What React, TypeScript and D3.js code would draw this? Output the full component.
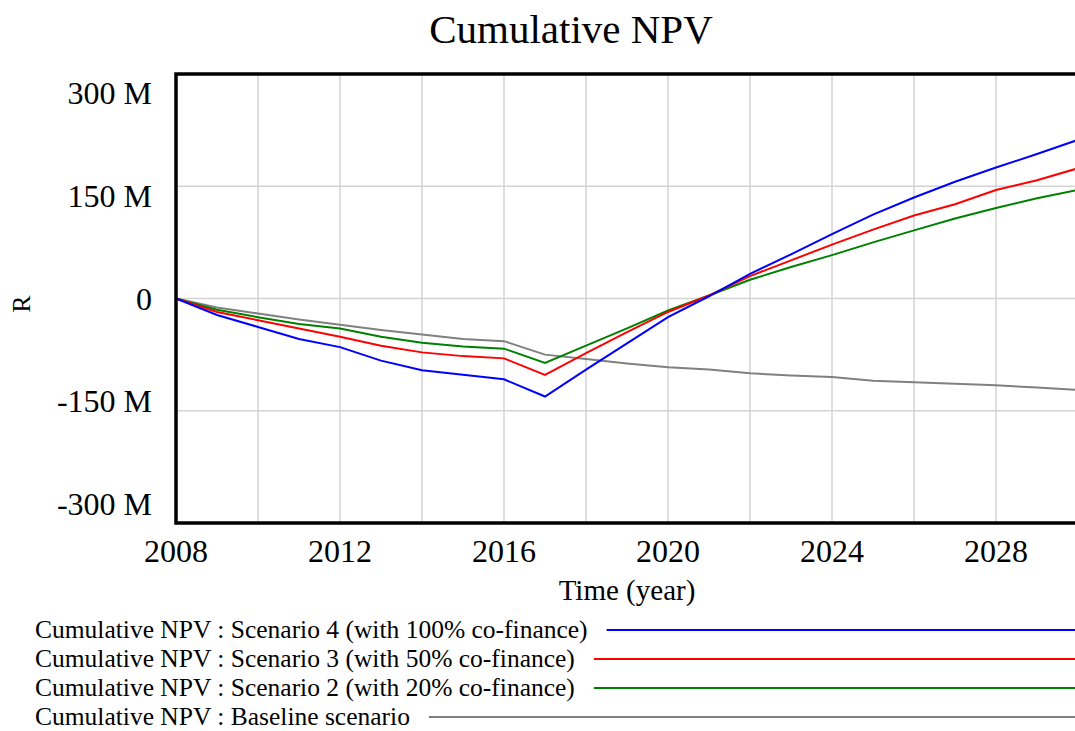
import React, { useEffect, useRef } from 'react';
import * as d3 from 'd3';

// years on the time axis
const years = [2008, 2009, 2010, 2011, 2012, 2013, 2014, 2015, 2016, 2017, 2018, 2019,
  2020, 2021, 2022, 2023, 2024, 2025, 2026, 2027, 2028, 2029, 2030];

// cumulative NPV, millions of R
const scenario4 = [0, -22, -38, -54, -65, -83, -96, -102, -108, -131, -95, -60,
  -25, 3, 33, 59, 86, 112, 135, 156, 175, 193, 212];
const scenario3 = [0, -18, -29, -40, -51, -63, -72, -77, -80, -102, -73, -45,
  -18, 4, 30, 51, 72, 92, 111, 126, 145, 158, 174];
const scenario2 = [0, -15, -25, -34, -40, -51, -59, -64, -67, -86, -63, -40,
  -16, 4, 25, 42, 58, 75, 91, 107, 121, 134, 145];
const baseline = [0, -12, -20, -28, -35, -42, -48, -54, -57, -75, -81, -87,
  -92, -95, -100, -103, -105, -110, -112, -114, -116, -119, -122];

const seriesNames = [
  'Cumulative NPV : Scenario 4 (with 100% co-finance)',
  'Cumulative NPV : Scenario 3 (with 50% co-finance)',
  'Cumulative NPV : Scenario 2 (with 20% co-finance)',
  'Cumulative NPV : Baseline scenario',
];
const seriesColors = ['#0000ff', '#ff0000', '#008000', '#808080'];

const xTickYears = [2008, 2012, 2016, 2020, 2024, 2028];
const yTickValues = [-300, -150, 0, 150, 300];
const yTickLabels = ['-300 M', '-150 M', '0', '150 M', '300 M'];

const App: React.FC = () => {
  const ref = useRef<SVGSVGElement>(null);

  useEffect(() => {
    document.body.style.margin = '0';
    const svg = d3.select(ref.current);
    svg.selectAll('*').remove();

    const font = '"Liberation Serif", "Times New Roman", serif';
    const left = 176, top = 74, right = 1078, bottom = 523;

    const x = d3.scaleLinear().domain([2008, 2030]).range([left, right]);
    const y = d3.scaleLinear().domain([-300, 300]).range([bottom, top]);

    // grid
    const grid = svg.append('g').attr('stroke', '#d3d3d3').attr('stroke-width', 1.5);
    grid.selectAll('line.v')
      .data(d3.range(2010, 2030, 2))
      .enter()
      .append('line')
      .attr('x1', d => x(d)).attr('x2', d => x(d))
      .attr('y1', top).attr('y2', bottom);
    grid.selectAll('line.h')
      .data([-150, 0, 150])
      .enter()
      .append('line')
      .attr('x1', left).attr('x2', right)
      .attr('y1', d => y(d)).attr('y2', d => y(d));

    // series
    const allSeries = [scenario4, scenario3, scenario2, baseline];
    const line = d3.line<number>().x((_, i) => x(years[i])).y(d => y(d));
    [3, 2, 1, 0].forEach(k => {
      svg.append('path')
        .attr('d', line(allSeries[k]))
        .attr('fill', 'none')
        .attr('stroke', seriesColors[k])
        .attr('stroke-width', 2);
    });

    // frame
    svg.append('rect')
      .attr('x', left).attr('y', top)
      .attr('width', right - left).attr('height', bottom - top)
      .attr('fill', 'none').attr('stroke', '#000').attr('stroke-width', 3.5);

    // y tick labels (pulled slightly toward the zero line, as in the original)
    const mid = y(0);
    svg.selectAll('text.ytick')
      .data(yTickValues)
      .enter()
      .append('text')
      .attr('x', 152)
      .attr('y', d => mid + (y(d) - mid) * 0.915)
      .attr('dy', '0.35em')
      .attr('text-anchor', 'end')
      .attr('font-family', font)
      .attr('font-size', 32)
      .text((_, i) => yTickLabels[i]);

    // x tick labels
    svg.selectAll('text.xtick')
      .data(xTickYears)
      .enter()
      .append('text')
      .attr('x', d => x(d))
      .attr('y', bottom + 39)
      .attr('text-anchor', 'middle')
      .attr('font-family', font)
      .attr('font-size', 32)
      .text(d => String(d));

    // titles
    svg.append('text')
      .attr('x', 571).attr('y', 43)
      .attr('text-anchor', 'middle')
      .attr('font-family', font).attr('font-size', 41)
      .text('Cumulative NPV');
    svg.append('text')
      .attr('x', (left + right) / 2).attr('y', 600)
      .attr('text-anchor', 'middle')
      .attr('font-family', font).attr('font-size', 29)
      .text('Time (year)');
    svg.append('text')
      .attr('transform', 'translate(30,304) rotate(-90)')
      .attr('text-anchor', 'middle')
      .attr('font-family', font).attr('font-size', 26)
      .text('R');

    // legend
    seriesNames.forEach((name, i) => {
      const ly = 630 + i * 29;
      const t = svg.append('text')
        .attr('x', 35).attr('y', ly + 8)
        .attr('font-family', font).attr('font-size', 25.5)
        .text(name);
      const w = (t.node() as SVGTextElement).getComputedTextLength();
      svg.append('line')
        .attr('x1', 35 + w + 19).attr('x2', 1075)
        .attr('y1', ly).attr('y2', ly)
        .attr('stroke', seriesColors[i])
        .attr('stroke-width', 2);
    });
  }, []);

  return (
    <svg
      ref={ref}
      width={1075}
      height={731}
      style={{ position: 'absolute', left: 0, top: 0, background: '#fff' }}
    />
  );
};

export default App;
